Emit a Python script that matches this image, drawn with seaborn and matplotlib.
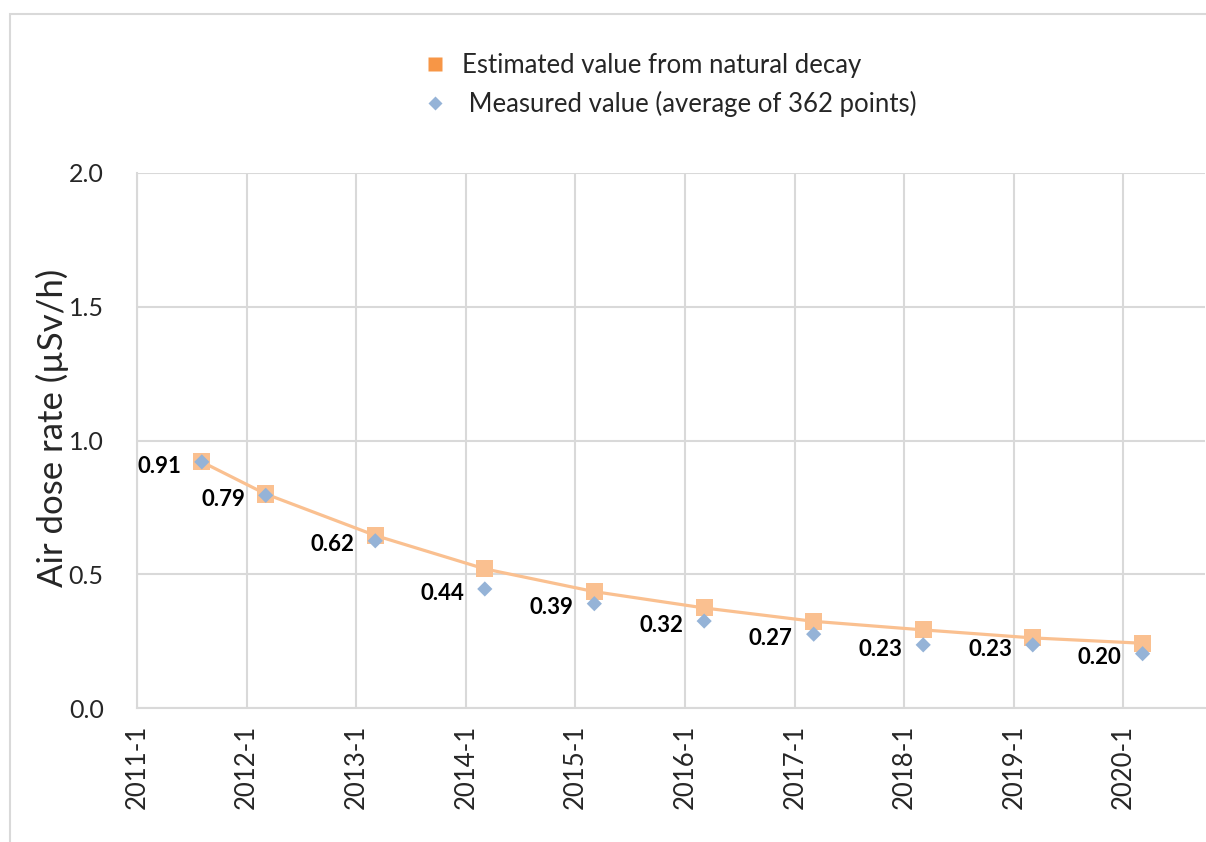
import numpy as np
import pandas as pd
import matplotlib
matplotlib.use("Agg")
import matplotlib.pyplot as plt
import matplotlib.dates as mdates
from matplotlib.lines import Line2D
from matplotlib.patches import Rectangle
import seaborn as sns

# ── Data ──────────────────────────────────────────────────────────────────
survey_dates = ["2011-08-05", "2012-03-05", "2013-03-05", "2014-03-05", "2015-03-05",
                "2016-03-05", "2017-03-05", "2018-03-05", "2019-03-05", "2020-03-05"]
estimated = [0.92, 0.80, 0.645, 0.52, 0.435, 0.374, 0.324, 0.292, 0.262, 0.242]
measured = [0.92, 0.795, 0.625, 0.445, 0.39, 0.325, 0.276, 0.236, 0.236, 0.203]
measured_labels = ["0.91", "0.79", "0.62", "0.44", "0.39", "0.32", "0.27", "0.23", "0.23", "0.20"]
tick_years = list(range(2011, 2021))
tick_labels = [f"{y}-1" for y in tick_years]
y_ticks = [0.0, 0.5, 1.0, 1.5, 2.0]

df = pd.DataFrame({"date": pd.to_datetime(survey_dates),
                   "estimated": estimated,
                   "measured": measured})

# ── Style ─────────────────────────────────────────────────────────────────
sns.set_theme(style="white")
plt.rcParams["font.family"] = ["Lato", "DejaVu Sans"]

ORANGE_LIGHT = "#FAC090"
ORANGE_LEG = "#F79646"
BLUE = "#95B3D7"
GRID = "#D9D9D9"

W, H = 1206, 842
fig = plt.figure(figsize=(W / 100, H / 100), dpi=100)
ax = fig.add_axes([137 / W, 1 - 708 / H, (1205 - 137) / W, (708 - 173) / H])

sns.lineplot(data=df, x="date", y="estimated", color=ORANGE_LIGHT, linewidth=2.3, ax=ax, zorder=2)
sns.scatterplot(data=df, x="date", y="estimated", marker="s", s=150, color=ORANGE_LIGHT,
                edgecolor="none", ax=ax, zorder=3)
sns.scatterplot(data=df, x="date", y="measured", marker="D", s=60, color=BLUE,
                edgecolor="none", ax=ax, zorder=4)

for d, v, lab in zip(df["date"], df["measured"], measured_labels):
    ax.annotate(lab, (mdates.date2num(d), v), xytext=(-15, -3), textcoords="offset points",
                ha="right", va="center", fontsize=16, fontweight="bold", color="black")

# ── Axes ──────────────────────────────────────────────────────────────────
ax.set_xticks([mdates.date2num(pd.Timestamp(f"{y}-01-01")) for y in tick_years])
ax.set_xticklabels(tick_labels, rotation=90, fontsize=18.5)
ax.set_xlim(mdates.date2num(pd.Timestamp("2011-01-01")), mdates.date2num(pd.Timestamp("2020-09-29")))
ax.set_ylim(0, 2.0)
ax.set_yticks(y_ticks)
ax.set_yticklabels([f"{t:.1f}" for t in y_ticks], fontsize=18)
ax.tick_params(axis="x", length=0, pad=12)
ax.tick_params(axis="y", length=0, pad=24)
ax.grid(True, color=GRID, linewidth=1.5)
ax.set_axisbelow(True)
for side in ["top", "right"]:
    ax.spines[side].set_visible(False)
for side in ["left", "bottom"]:
    ax.spines[side].set_color(GRID)
    ax.spines[side].set_linewidth(1.5)

ax.set_xlabel("")
ax.set_ylabel("Air dose rate (µSv/h)", fontsize=25, va="center")
ax.yaxis.set_label_coords((52 - 137) / (1205 - 137), (708 - 428) / (708 - 173))

# ── Legend ────────────────────────────────────────────────────────────────
handles = [Line2D([], [], linestyle="none", marker="s", markersize=10,
                  markerfacecolor=ORANGE_LEG, markeredgecolor="none"),
           Line2D([], [], linestyle="none", marker="D", markersize=7,
                  markerfacecolor=BLUE, markeredgecolor="none")]
labels = ["Estimated value from natural decay", " Measured value (average of 362 points)"]
fig.legend(handles, labels, loc="upper left", bbox_to_anchor=(422 / W, 1 - 53 / H),
           frameon=False, fontsize=18.5, handlelength=1.0, handletextpad=0.56,
           labelspacing=0.5, borderpad=0, borderaxespad=0)

# chart outer border (cropped at right and bottom)
fig.patches.append(Rectangle((10 / W, -0.1), 1.2, (H - 14) / H + 0.1, transform=fig.transFigure,
                             fill=False, edgecolor=GRID, linewidth=1.5))

fig.savefig("out.png", dpi=100)
